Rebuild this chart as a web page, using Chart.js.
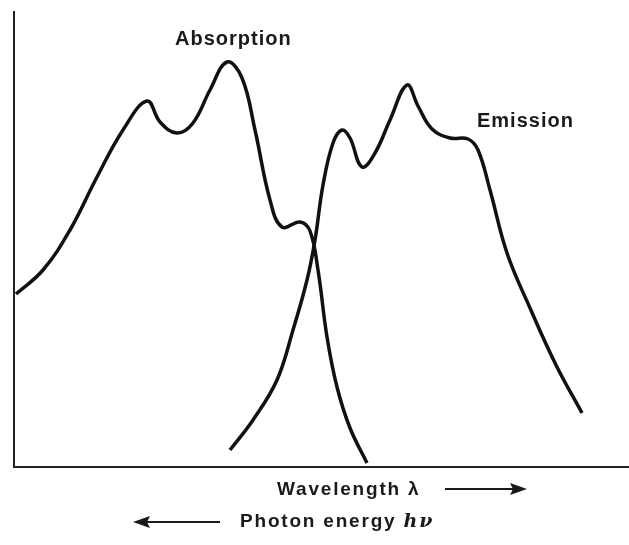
<!DOCTYPE html>
<html><head><meta charset="utf-8">
<script src="https://cdn.jsdelivr.net/npm/chart.js@4"></script>
<style>html,body{margin:0;padding:0;background:#fff}#wrap{width:629px;height:545px;position:relative}</style>
</head><body><div id="wrap"><canvas id="c" width="629" height="545"></canvas></div>
<script>
// Relative units: x = position along wavelength axis, y = intensity
const absorptionX = [2,29,56,83,109,133,146,163,179,196,213,228,241,256,268,286,296,304,313,323,336,353];
const absorptionY = [173,197,237,290,337,366,345,334,344,377,405,389,337,267,240,245,236,197,130,80,39,4];
const emissionX = [216,239,263,279,293,301,309,319,328,336,348,361,376,393,404,418,436,454,464,476,493,516,542,568];
const emissionY = [17,47,87,137,187,227,282,324,337,329,300,314,347,382,361,338,329,328,317,277,214,159,102,54];
const labels = { absorption: "Absorption", emission: "Emission", wavelength: "Wavelength \u03bb", energy: "Photon energy " };

const toPts = (xs, ys) => xs.map((x, i) => ({ x, y: ys[i] }));

const annot = {
  id: 'annot',
  afterDraw(chart) {
    const ctx = chart.ctx;
    ctx.save();
    ctx.fillStyle = '#1a1a1a';
    ctx.strokeStyle = '#1a1a1a';
    ctx.textBaseline = 'middle';
    ctx.font = 'bold 20px "Liberation Sans"';
    ctx.letterSpacing = '1px';
    ctx.fillText(labels.absorption, 175, 39);
    ctx.fillText(labels.emission, 477, 121);
    ctx.font = 'bold 19px "Liberation Sans"';
    ctx.letterSpacing = '1.8px';
    ctx.fillText(labels.wavelength, 277, 490);
    const w = ctx.measureText(labels.energy).width;
    ctx.fillText(labels.energy, 240, 522);
    ctx.font = 'italic bold 19px "DejaVu Serif"';
    ctx.letterSpacing = '2px';
    ctx.fillText('h\u03bd', 240 + w, 522);
    ctx.letterSpacing = '0px';
    // arrows
    ctx.lineWidth = 2;
    ctx.beginPath(); ctx.moveTo(445, 489); ctx.lineTo(515, 489); ctx.stroke();
    ctx.beginPath(); ctx.moveTo(527, 489); ctx.lineTo(510, 483); ctx.lineTo(513, 489); ctx.lineTo(510, 495); ctx.closePath(); ctx.fill();
    ctx.beginPath(); ctx.moveTo(145, 522); ctx.lineTo(220, 522); ctx.stroke();
    ctx.beginPath(); ctx.moveTo(133, 522); ctx.lineTo(150, 516); ctx.lineTo(147, 522); ctx.lineTo(150, 528); ctx.closePath(); ctx.fill();
    ctx.restore();
  }
};

new Chart(document.getElementById('c'), {
  type: 'line',
  data: {
    datasets: [
      { label: labels.absorption, data: toPts(absorptionX, absorptionY) },
      { label: labels.emission, data: toPts(emissionX, emissionY) }
    ]
  },
  options: {
    responsive: false,
    animation: false,
    devicePixelRatio: 1,
    layout: { padding: { left: 14, top: 12, right: 0, bottom: 78 } },
    elements: {
      line: { borderColor: '#111', borderWidth: 3.5, tension: 0.4, fill: false },
      point: { radius: 0 }
    },
    plugins: { legend: { display: false }, tooltip: { enabled: false } },
    scales: {
      x: { type: 'linear', min: 0, max: 615, ticks: { display: false }, grid: { display: false },
           border: { display: true, color: '#222', width: 2 }, afterFit: s => { s.height = 0; } },
      y: { min: 0, max: 455, ticks: { display: false }, grid: { display: false },
           border: { display: true, color: '#222', width: 2 }, afterFit: s => { s.width = 0; } }
    }
  },
  plugins: [annot]
});
</script></body></html>
